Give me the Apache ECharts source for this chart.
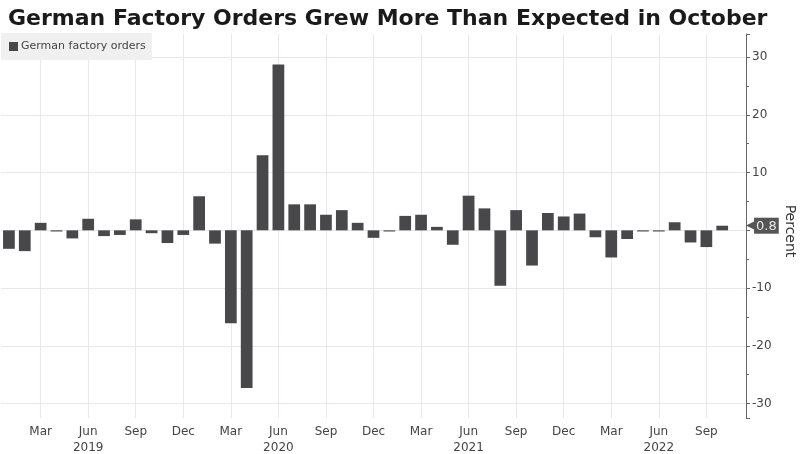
<!DOCTYPE html>
<html>
<head>
<meta charset="utf-8">
<script src="https://cdn.jsdelivr.net/npm/echarts@6/dist/echarts.min.js"></script>
<style>html,body{margin:0;padding:0;background:#fff;}#c{width:800px;height:454px;}</style>
</head>
<body>
<div id="c"></div>
<script>
const titleText = 'German Factory Orders Grew More Than Expected in October';
const seriesName = 'German factory orders';
const categories = [
 '2019-01','2019-02','2019-03','2019-04','2019-05','2019-06','2019-07','2019-08','2019-09','2019-10','2019-11','2019-12',
 '2020-01','2020-02','2020-03','2020-04','2020-05','2020-06','2020-07','2020-08','2020-09','2020-10','2020-11','2020-12',
 '2021-01','2021-02','2021-03','2021-04','2021-05','2021-06','2021-07','2021-08','2021-09','2021-10','2021-11','2021-12',
 '2022-01','2022-02','2022-03','2022-04','2022-05','2022-06','2022-07','2022-08','2022-09','2022-10','2022-11'
];
const values = [
 -3.2,-3.6,1.3,-0.2,-1.4,2.0,-1.0,-0.8,1.9,-0.5,-2.2,-0.8,
 5.9,-2.3,-16.1,-27.3,13.0,28.7,4.5,4.5,2.7,3.5,1.3,-1.3,
 -0.2,2.5,2.7,0.6,-2.5,6.0,3.8,-9.6,3.5,-6.1,3.0,2.4,
 2.9,-1.2,-4.7,-1.5,-0.2,-0.2,1.4,-2.1,-2.9,0.8,null
];
const monthTickLabels = {'03':'Mar','06':'Jun','09':'Sep','12':'Dec'};
const yearLabelMonth = '06';
const lastValue = 0.8;

const FONT = 'DejaVu Sans';
const chart = echarts.init(document.getElementById('c'));
const isTick = (i) => !!monthTickLabels[categories[i].slice(5)];

chart.setOption({
  animation: false,
  backgroundColor: '#ffffff',
  title: {
    text: titleText, left: 3, top: 3,
    textStyle: {fontFamily: FONT, fontSize: 22, fontWeight: 'bold', color: '#1a1a1a'}
  },
  legend: {
    data: [seriesName], left: 1, top: 33, icon: 'rect', itemWidth: 9, itemHeight: 9, itemGap: 4,
    backgroundColor: '#f0f0f0', padding: [8, 6, 8, 8], borderRadius: 0,
    textStyle: {fontFamily: FONT, fontSize: 11, color: '#444', padding: [0, 0, 0, -2]}
  },
  grid: {left: 1, right: 54, top: 34, bottom: 36, containLabel: false, outerBoundsMode: 'none'},
  xAxis: {
    type: 'category', data: categories, boundaryGap: true,
    axisLine: {show: false}, axisTick: {show: false},
    axisLabel: {
      interval: (i) => isTick(i), margin: 6, lineHeight: 16,
      fontFamily: FONT, fontSize: 12, color: '#444',
      formatter: (v) => {
        const m = v.slice(5);
        const lab = monthTickLabels[m] || '';
        return m === yearLabelMonth ? lab + '\n' + v.slice(0, 4) : lab;
      }
    },
    splitLine: {show: true, interval: (i) => isTick(i), alignWithLabel: true, lineStyle: {color: '#e9e7ee', width: 1}}
  },
  yAxis: {
    type: 'value', position: 'right', min: -32.5, max: 34, splitNumber: 7,
    name: 'Percent', nameLocation: 'middle', nameRotate: -90, nameGap: 36,
    nameTextStyle: {fontFamily: FONT, fontSize: 14, color: '#333', padding: [0, 0, 0, 10]},
    axisLine: {show: true, lineStyle: {color: '#666', width: 1}},
    axisTick: {show: true, inside: false, length: 4, lineStyle: {color: '#666'}},
    minorTick: {show: true, splitNumber: 2, length: 3, lineStyle: {color: '#666'}},
    axisLabel: {
      margin: 6, fontFamily: FONT, fontSize: 12, color: '#444',
      formatter: (v) => (v !== 0 && Math.abs(v % 10) < 1e-9) ? String(v) : ''
    },
    splitLine: {show: true, showMinLine: false, showMaxLine: false, lineStyle: {color: '#e9e7ee', width: 1}}
  },
  series: [{
    name: seriesName, type: 'bar', data: values, barCategoryGap: '26%',
    itemStyle: {color: '#48484a'},
    markLine: {
      silent: true, symbol: 'none',
      lineStyle: {color: 'rgba(0,0,0,0)', width: 0},
      data: [{yAxis: lastValue}],
      label: {
        show: true, position: 'end', distance: 0,
        formatter: '{a|◀}{b|' + lastValue + '}',
        rich: {
          a: {color: '#555', fontSize: 17, fontFamily: FONT, padding: [0, -5, 0, 0]},
          b: {color: '#e6e6e6', fontSize: 13, fontFamily: FONT, backgroundColor: '#555', padding: [2, 2, 1, 2]}
        }
      }
    }
  }]
});
</script>
</body>
</html>
